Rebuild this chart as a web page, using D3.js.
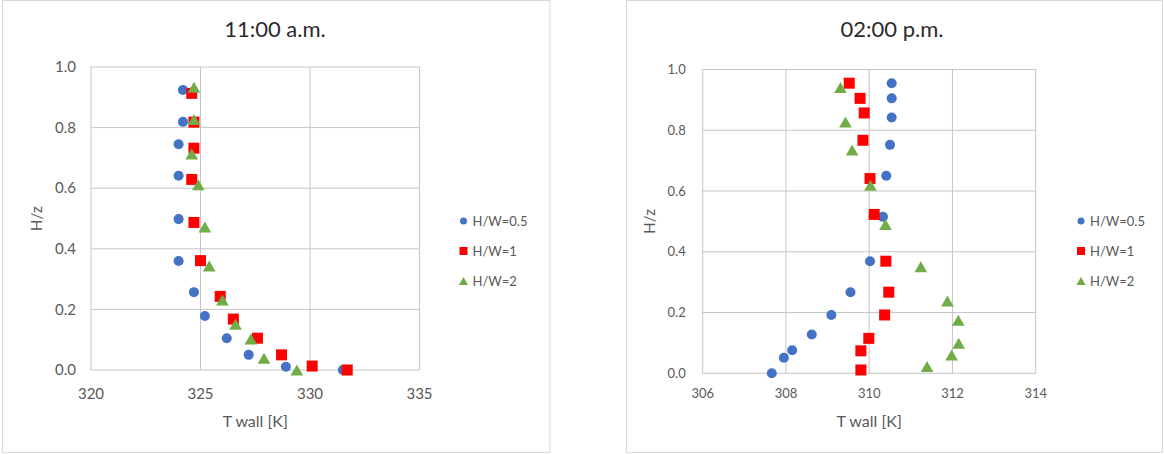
<!DOCTYPE html>
<html>
<head>
<meta charset="utf-8">
<script src="https://cdn.jsdelivr.net/npm/d3@7"></script>
<style>
  body { margin: 0; background: #fff; }
  text { font-family: Lato, "Noto Sans", sans-serif; fill: #595959; }
</style>
</head>
<body>
<svg id="chart" width="1164" height="454"></svg>
<script>
// series labels
const seriesNames = ['H/W=0.5', 'H/W=1', 'H/W=2'];
const seriesColors = ['#4472c4', '#ff0000', '#70ad47'];

// 11:00 a.m.
const amT05 = [324.2, 324.2, 324.0, 324.0, 324.0, 324.0, 324.7, 325.2, 326.2, 327.2, 328.9, 331.5];
const amZ05 = [0.924, 0.819, 0.745, 0.641, 0.498, 0.36, 0.257, 0.178, 0.105, 0.05, 0.011, 0];
const amT1 = [324.6, 324.7, 324.7, 324.6, 324.7, 325.0, 325.9, 326.5, 327.6, 328.7, 330.1, 331.7];
const amZ1 = [0.913, 0.818, 0.732, 0.629, 0.487, 0.361, 0.243, 0.168, 0.105, 0.05, 0.013, 0];
const amT2 = [324.7, 324.7, 324.6, 324.9, 325.2, 325.4, 326.0, 326.6, 327.3, 327.9, 329.4];
const amZ2 = [0.933, 0.827, 0.713, 0.611, 0.472, 0.343, 0.231, 0.151, 0.102, 0.039, 0];
const amXTicks = [320, 325, 330, 335];

// 02:00 p.m.
const pmT05 = [310.54, 310.54, 310.54, 310.5, 310.41, 310.33, 310.02, 309.55, 309.09, 308.62, 308.15, 307.95, 307.66];
const pmZ05 = [0.955, 0.905, 0.842, 0.752, 0.65, 0.515, 0.369, 0.267, 0.192, 0.128, 0.076, 0.051, 0];
const pmT1 = [309.52, 309.78, 309.88, 309.85, 310.02, 310.12, 310.4, 310.47, 310.37, 309.99, 309.8, 309.8];
const pmZ1 = [0.955, 0.905, 0.857, 0.767, 0.641, 0.523, 0.369, 0.267, 0.192, 0.115, 0.074, 0.011];
const pmT2 = [309.31, 309.43, 309.59, 310.03, 310.39, 311.24, 311.88, 312.14, 312.15, 311.98, 311.39];
const pmZ2 = [0.941, 0.827, 0.735, 0.619, 0.49, 0.351, 0.238, 0.175, 0.099, 0.06, 0.022];
const pmXTicks = [306, 308, 310, 312, 314];

const yTicks = [0, 0.2, 0.4, 0.6, 0.8, 1.0];

const svg = d3.select('#chart');

function markerPath(kind, size)
{
    if (kind === 0) return d3.symbol(d3.symbolCircle, Math.PI * (size / 2) * (size / 2))();
    if (kind === 1) return `M${-size/2},${-size/2}H${size/2}V${size/2}H${-size/2}Z`;
    const w = size * 1.15, h = size;
    return `M0,${-h/2}L${w/2},${h/2}L${-w/2},${h/2}Z`;
}

function drawChart(opt)
{
    const g = svg.append('g');

    // chart frame
    g.append('rect')
        .attr('x', opt.frame[0]).attr('y', opt.frame[1])
        .attr('width', opt.frame[2]).attr('height', opt.frame[3])
        .attr('fill', '#fff').attr('stroke', '#d9d9d9').attr('stroke-width', 1);

    const x = d3.scaleLinear().domain(opt.xDomain).range(opt.xRange);
    const y = d3.scaleLinear().domain([0, 1]).range(opt.yRange);

    // grid
    g.selectAll('.vgrid').data(opt.xTicks).join('line')
        .attr('x1', d => x(d)).attr('x2', d => x(d))
        .attr('y1', y(0)).attr('y2', y(1))
        .attr('stroke', '#c6c6c6').attr('stroke-width', 1);
    g.selectAll('.hgrid').data(yTicks).join('line')
        .attr('x1', x(opt.xDomain[0])).attr('x2', x(opt.xDomain[1]))
        .attr('y1', d => y(d)).attr('y2', d => y(d))
        .attr('stroke', '#c6c6c6').attr('stroke-width', 1);

    // tick labels
    g.selectAll('.xt').data(opt.xTicks).join('text')
        .attr('x', d => x(d)).attr('y', y(0) + opt.xTickDy)
        .attr('text-anchor', 'middle')
        .style('font-size', opt.tickSize + 'px')
        .text(d => d);
    g.selectAll('.yt').data(yTicks).join('text')
        .attr('x', x(opt.xDomain[0]) - opt.yTickDx).attr('y', d => y(d))
        .attr('dy', '0.35em')
        .attr('text-anchor', 'end')
        .style('font-size', opt.tickSize + 'px')
        .text(d => d.toFixed(1));

    // titles
    g.append('text')
        .attr('x', opt.titlePos[0]).attr('y', opt.titlePos[1])
        .attr('text-anchor', 'middle')
        .style('font-size', '22px').style('fill', '#2b2b2b')
        .text(opt.title);
    g.append('text')
        .attr('x', (opt.xRange[0] + opt.xRange[1]) / 2).attr('y', 427)
        .attr('text-anchor', 'middle')
        .style('font-size', '16px')
        .text('T wall [K]');
    g.append('text')
        .attr('transform', `translate(${opt.yTitleX}, ${(opt.yRange[0] + opt.yRange[1]) / 2}) rotate(-90)`)
        .attr('text-anchor', 'middle')
        .style('font-size', '15px')
        .text('H/z');

    // points
    opt.series.forEach((s, i) => {
        const pts = s.t.map((t, k) => ({t: t, z: s.z[k]}));
        g.selectAll('.p' + i).data(pts).join('path')
            .attr('d', markerPath(i, i === 0 ? 10 : 11))
            .attr('transform', d => `translate(${x(d.t)}, ${y(d.z)})`)
            .attr('fill', seriesColors[i]);
    });

    // legend
    seriesNames.forEach((name, i) => {
        const ly = 221 + i * 30;
        g.append('path')
            .attr('d', markerPath(i, i === 0 ? 7 : 8))
            .attr('transform', `translate(${opt.legendX}, ${ly})`)
            .attr('fill', seriesColors[i]);
        g.append('text')
            .attr('x', opt.legendX + 9).attr('y', ly).attr('dy', '0.35em')
            .style('font-size', '13px')
            .text(name);
    });
}

drawChart({
    frame: [2.5, 0.5, 547.5, 452],
    xDomain: [320, 335], xRange: [91, 419.5], yRange: [370, 67],
    xTicks: amXTicks, tickSize: 15, xTickDy: 29, yTickDx: 15,
    title: '11:00 a.m.', titlePos: [275, 37], yTitleX: 42,
    legendX: 463.5,
    series: [{t: amT05, z: amZ05}, {t: amT1, z: amZ1}, {t: amT2, z: amZ2}]
});

drawChart({
    frame: [626.5, 0.5, 536, 452],
    xDomain: [306, 314], xRange: [702.7, 1035.7], yRange: [373.3, 69.5],
    xTicks: pmXTicks, tickSize: 13, xTickDy: 25, yTickDx: 17,
    title: '02:00 p.m.', titlePos: [892, 37], yTitleX: 655,
    legendX: 1081,
    series: [{t: pmT05, z: pmZ05}, {t: pmT1, z: pmZ1}, {t: pmT2, z: pmZ2}]
});
</script>
</body>
</html>
